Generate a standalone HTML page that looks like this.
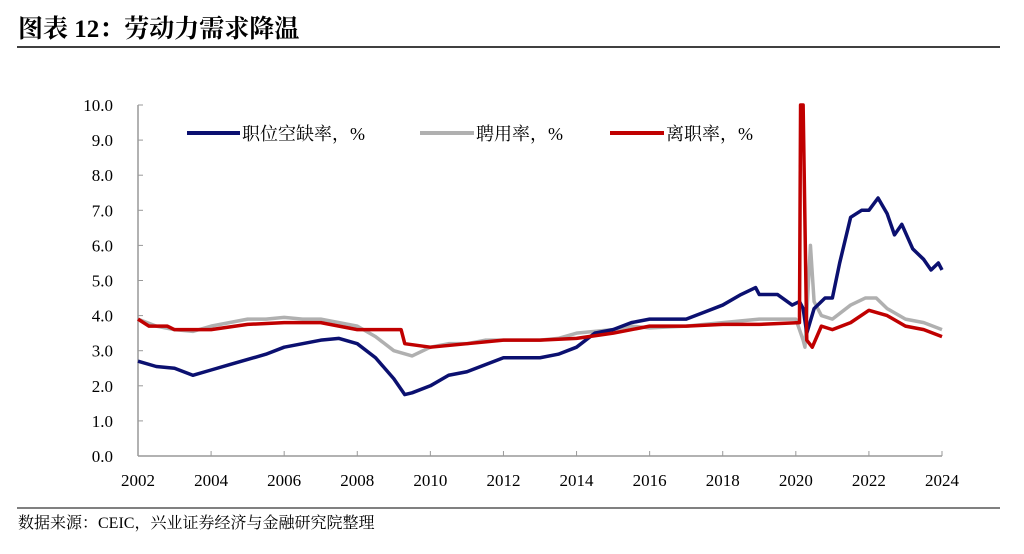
<!DOCTYPE html>
<html><head><meta charset="utf-8"><style>
body{margin:0;width:1024px;height:549px;background:#fff;overflow:hidden;font-family:"Liberation Serif","Noto Serif CJK SC",serif}
</style></head><body>
<svg width="1024" height="549" xmlns="http://www.w3.org/2000/svg">
<text x="18" y="37" font-size="25" font-weight="bold" font-family="Liberation Serif, Noto Serif CJK SC, serif">图表 12：劳动力需求降温</text>
<line x1="17" y1="47" x2="1000" y2="47" stroke="#000" stroke-width="1.5"/>
<line x1="17" y1="508" x2="1000" y2="508" stroke="#000" stroke-width="1"/>
<text x="18" y="528" font-size="16" font-family="Liberation Serif, Noto Serif CJK SC, serif">数据来源：CEIC，兴业证券经济与金融研究院整理</text>
<g id="axes"></g><g id="series"></g>
<g font-size="18" font-family="Liberation Serif, Noto Serif CJK SC, serif">
<line x1="187" y1="133" x2="240" y2="133" stroke="#0b1070" stroke-width="4"/><text x="242" y="140">职位空缺率，%</text>
<line x1="420" y1="133" x2="474" y2="133" stroke="#b0b0b0" stroke-width="4"/><text x="476" y="140">聘用率，%</text>
<line x1="610" y1="133" x2="664" y2="133" stroke="#c00000" stroke-width="4"/><text x="666" y="140">离职率，%</text>
</g>
</svg>
<script>
const vacX=[2002,2002.5,2003,2003.5,2004,2004.5,2005,2005.5,2006,2006.5,2007,2007.5,2008,2008.5,2009,2009.3,2009.5,2010,2010.5,2011,2011.5,2012,2012.5,2013,2013.5,2014,2014.5,2015,2015.5,2016,2016.5,2017,2017.5,2018,2018.5,2018.9,2019,2019.5,2019.9,2020.1,2020.2,2020.3,2020.5,2020.8,2021,2021.2,2021.5,2021.8,2022,2022.25,2022.5,2022.7,2022.9,2023.2,2023.5,2023.7,2023.9,2024];
const vacY=[2.7,2.55,2.5,2.3,2.45,2.6,2.75,2.9,3.1,3.2,3.3,3.35,3.2,2.8,2.2,1.75,1.8,2.0,2.3,2.4,2.6,2.8,2.8,2.8,2.9,3.1,3.5,3.6,3.8,3.9,3.9,3.9,4.1,4.3,4.6,4.8,4.6,4.6,4.3,4.4,4.2,3.5,4.2,4.5,4.5,5.5,6.8,7.0,7.0,7.35,6.9,6.3,6.6,5.9,5.6,5.3,5.5,5.3];
const hirX=[2002,2002.5,2003,2003.5,2004,2004.5,2005,2005.5,2006,2006.5,2007,2007.5,2008,2008.5,2009,2009.5,2010,2010.5,2011,2011.5,2012,2013,2013.5,2014,2015,2015.5,2016,2017,2018,2019,2020,2020.2,2020.25,2020.4,2020.5,2020.7,2021,2021.5,2021.9,2022.2,2022.5,2023,2023.5,2024];
const hirY=[3.9,3.7,3.6,3.55,3.7,3.8,3.9,3.9,3.95,3.9,3.9,3.8,3.7,3.4,3.0,2.85,3.1,3.2,3.2,3.3,3.3,3.3,3.35,3.5,3.6,3.7,3.65,3.7,3.8,3.9,3.9,3.3,3.1,6.0,4.4,4.0,3.9,4.3,4.5,4.5,4.2,3.9,3.8,3.6];
const quiX=[2002,2002.3,2002.8,2003,2004,2005,2006,2007,2007.5,2008,2008.5,2009.2,2009.3,2010,2011,2012,2013,2014,2015,2016,2017,2018,2019,2020.1,2020.13,2020.2,2020.3,2020.45,2020.7,2021,2021.5,2022,2022.5,2023,2023.5,2024];
const quiY=[3.9,3.7,3.7,3.6,3.6,3.75,3.8,3.8,3.7,3.6,3.6,3.6,3.2,3.1,3.2,3.3,3.3,3.35,3.5,3.7,3.7,3.75,3.75,3.8,10.0,10.0,3.3,3.1,3.7,3.6,3.8,4.15,4.0,3.7,3.6,3.4];
const yTicks=[0,1,2,3,4,5,6,7,8,9,10];
const xTicks=[2002,2004,2006,2008,2010,2012,2014,2016,2018,2020,2022,2024];
const X0=138,X1=942,Y0=456,Y1=105;
const sx=v=>X0+(v-2002)/22*(X1-X0), sy=v=>Y0-v/10*(Y0-Y1);
const NS="http://www.w3.org/2000/svg";
const axes=document.getElementById('axes'), ser=document.getElementById('series');
function mk(t,a,p){const e=document.createElementNS(NS,t);for(const k in a)e.setAttribute(k,a[k]);p.appendChild(e);return e;}
const ya=mk('line',{x1:X0,y1:Y1,x2:X0,y2:Y0,stroke:'#999','stroke-width':1.5},axes);


const xa=mk('line',{x1:X0,y1:Y0,x2:X1,y2:Y0,stroke:'#999','stroke-width':1.5},axes);


yTicks.forEach(v=>{const y=sy(v);mk('line',{x1:X0,y1:y,x2:X0+5,y2:y,stroke:'#999'},axes);
const t=mk('text',{x:113,y:y+6,'text-anchor':'end','font-size':17},axes);t.textContent=v.toFixed(1);

});
xTicks.forEach(v=>{const x=sx(v);mk('line',{x1:x,y1:Y0,x2:x,y2:Y0-5,stroke:'#999'},axes);
const t=mk('text',{x:x,y:486,'text-anchor':'middle','font-size':17},axes);t.textContent=v;

});
function line(xs,ys,c,n){const p=mk('polyline',{points:xs.map((x,i)=>sx(x)+','+sy(ys[i])).join(' '),fill:'none',stroke:c,'stroke-width':3.5,'stroke-linejoin':'round'},ser);

}
line(hirX,hirY,'#b0b0b0','hires-rate-line');
line(vacX,vacY,'#0b1070','job-openings-rate-line');
line(quiX,quiY,'#c00000','quits-rate-line');
</script>
</body></html>
